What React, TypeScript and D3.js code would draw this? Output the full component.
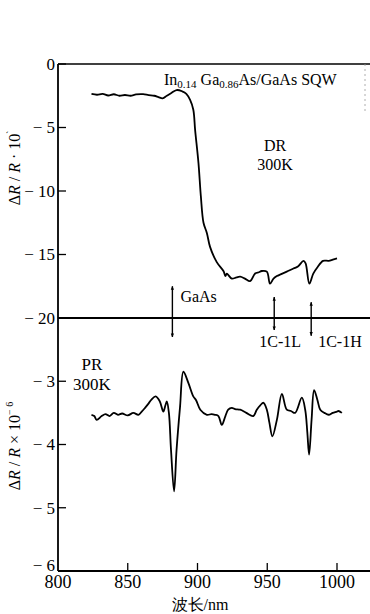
import React from "react";
import * as d3 from "d3";

// DR spectrum (ΔR/R · 10^-3)
const drWave = [824, 828, 832, 836, 840, 844, 848, 852, 856, 861, 865, 869, 872, 875, 878, 881, 885, 889, 892, 894.7, 897, 898.3, 900.7, 902.4, 904.3, 906.7, 909, 913.8, 918.6, 920, 921, 922, 924.6, 928, 930.6, 934, 937.7, 941.3, 944, 946, 949.7, 952, 954.5, 956.9, 960, 964, 968.8, 972, 976, 977.5, 980.2, 983, 986, 990, 994, 997, 1000];
const drValue = [-2.36, -2.42, -2.35, -2.48, -2.38, -2.5, -2.44, -2.5, -2.4, -2.38, -2.45, -2.5, -2.6, -2.7, -2.5, -2.3, -2.05, -2.15, -2.35, -2.83, -3.6, -5.2, -7.8, -10.4, -12.5, -13.3, -14.4, -15.6, -16.3, -16.7, -16.5, -16.6, -16.9, -16.8, -16.75, -16.9, -17.1, -16.5, -16.4, -16.3, -16.35, -17.3, -16.9, -16.7, -16.55, -16.35, -16.1, -15.95, -15.5, -15.7, -17.3, -16.5, -16.0, -15.5, -15.5, -15.4, -15.3];

// PR spectrum (ΔR/R × 10^-6)
const prWave = [824, 826, 827.7, 831.3, 834, 837, 840, 843, 846, 850, 854, 857.6, 860, 862.4, 865, 867, 870, 873, 875.5, 877, 878, 879.5, 881, 883.2, 885, 887.5, 889.9, 893.5, 897, 899, 902, 906.7, 910, 912.6, 915, 917.4, 920, 922, 924.6, 927, 930.6, 935, 940, 942.5, 945, 947.3, 949.7, 951.5, 953.7, 956.9, 960.5, 964, 967, 970, 974.8, 977.2, 978.7, 980, 981.8, 983.6, 986, 988, 991, 994, 997, 1000, 1001, 1003.5];
const prValue = [-3.53, -3.55, -3.61, -3.55, -3.52, -3.55, -3.5, -3.53, -3.51, -3.54, -3.5, -3.53, -3.48, -3.42, -3.35, -3.29, -3.24, -3.32, -3.48, -3.38, -3.32, -3.5, -4.08, -4.74, -4.08, -3.4, -2.85, -3.03, -3.24, -3.3, -3.45, -3.53, -3.52, -3.53, -3.55, -3.69, -3.55, -3.45, -3.42, -3.44, -3.45, -3.5, -3.55, -3.45, -3.38, -3.34, -3.45, -3.65, -3.87, -3.61, -3.2, -3.45, -3.47, -3.5, -3.26, -3.45, -3.8, -4.16, -3.6, -3.14, -3.3, -3.45, -3.5, -3.53, -3.5, -3.48, -3.47, -3.5];

const xTicks = [800, 850, 900, 950, 1000];
const drTicks = [0, -5, -10, -15, -20];
const prTicks = [-3, -4, -5, -6];

// transitions marked with double arrows: wavelength, top (DR units), bottom (PR units)
const markers = [
  { name: "GaAs", wave: 882, top: -17.5, bottom: -2.3 },
  { name: "1C-1L", wave: 955, top: -18.35, bottom: -2.19 },
  { name: "1C-1H", wave: 981.5, top: -18.75, bottom: -2.28 },
];

const W = 370;
const H = 614;
const FONT = "'Liberation Serif', 'Times New Roman', serif";

export default function App() {
  const left = 58;
  const x = d3.scaleLinear().domain([800, 1000]).range([left, 337]);
  const yDR = d3.scaleLinear().domain([0, -20]).range([64, 318]);
  const yPR = d3.scaleLinear().domain([-2, -6]).range([318, 571]);

  const drLine = d3
    .line<number>()
    .x((_, i) => x(drWave[i]))
    .y((d) => yDR(d))
    .curve(d3.curveCatmullRom.alpha(0.5));
  const prLine = d3
    .line<number>()
    .x((_, i) => x(prWave[i]))
    .y((d) => yPR(d))
    .curve(d3.curveCatmullRom.alpha(0.5));

  const minus = (v: number) => (v === 0 ? "0" : `\u2212 ${Math.abs(v)}`);

  return (
    <svg
      width={W}
      height={H}
      style={{ position: "absolute", left: 0, top: 0, background: "#fff" }}
      fontFamily={FONT}
    >
      <defs>
        <marker id="ah" viewBox="0 0 10 10" refX="9" refY="5" markerWidth="4" markerHeight="8" orient="auto-start-reverse" markerUnits="userSpaceOnUse">
          <path d="M0,1 L10,5 L0,9 Z" fill="#000" />
        </marker>
      </defs>

      {/* frame lines */}
      <line x1={left} x2={left} y1={yDR(0)} y2={yPR(-6)} stroke="#000" strokeWidth={1.8} />
      <line x1={left} x2={W} y1={yDR(0)} y2={yDR(0)} stroke="#000" strokeWidth={1.5} />
      <line x1={left} x2={W} y1={yDR(-20)} y2={yDR(-20)} stroke="#000" strokeWidth={1.8} />
      <line x1={left} x2={W} y1={yPR(-6)} y2={yPR(-6)} stroke="#000" strokeWidth={1.8} />
      <line x1={365} x2={365} y1={yDR(0)} y2={112} stroke="#999" strokeWidth={0.8} strokeDasharray="2 3" />

      {/* y ticks DR */}
      {drTicks.map((t) => (
        <g key={"dr" + t}>
          <line x1={left} x2={left + 8} y1={yDR(t)} y2={yDR(t)} stroke="#000" strokeWidth={1.3} />
          <text x={left - 3} y={yDR(t)} dy="0.35em" textAnchor="end" fontSize={17}>
            {minus(t)}
          </text>
        </g>
      ))}
      {/* y ticks PR */}
      {prTicks.map((t) => (
        <g key={"pr" + t}>
          <line x1={left} x2={left + 8} y1={yPR(t)} y2={yPR(t)} stroke="#000" strokeWidth={1.3} />
          <text x={left - 3} y={yPR(t) - (t === -6 ? 6 : 0)} dy="0.35em" textAnchor="end" fontSize={17}>
            {minus(t)}
          </text>
        </g>
      ))}
      {/* x ticks */}
      {xTicks.map((t) => (
        <g key={"x" + t}>
          {t !== 800 && <line x1={x(t)} x2={x(t)} y1={yPR(-6)} y2={yPR(-6) - 8} stroke="#000" strokeWidth={1.3} />}
          <text x={x(t)} y={588} textAnchor="middle" fontSize={18}>
            {t}
          </text>
        </g>
      ))}
      <text x={200} y={610} textAnchor="middle" fontSize={16}>
        波长/nm
      </text>

      {/* y axis titles */}
      <text transform="translate(20,168) rotate(-90)" textAnchor="middle" fontSize={16}>
        Δ<tspan fontStyle="italic">R</tspan> / <tspan fontStyle="italic">R</tspan> · 10
        <tspan dy={-7} fontSize={9}>ˋ</tspan>
      </text>
      <text transform="translate(20,446) rotate(-90)" textAnchor="middle" fontSize={16}>
        Δ<tspan fontStyle="italic">R</tspan> / <tspan fontStyle="italic">R</tspan> × 10
        <tspan dy={-7} fontSize={10}>− 6</tspan>
      </text>

      {/* curves */}
      <path d={drLine(drValue) || ""} fill="none" stroke="#000" strokeWidth={1.8} strokeLinejoin="round" />
      <path d={prLine(prValue) || ""} fill="none" stroke="#000" strokeWidth={1.8} strokeLinejoin="round" />

      {/* annotations */}
      <text x={164} y={85} fontSize={16}>
        In<tspan dy={3} fontSize={11}>0.14</tspan>
        <tspan dy={-3}> Ga</tspan>
        <tspan dy={3} fontSize={11}>0.86</tspan>
        <tspan dy={-3}>As/GaAs SQW</tspan>
      </text>
      <text x={275} y={151} textAnchor="middle" fontSize={16}>DR</text>
      <text x={275} y={170} textAnchor="middle" fontSize={16}>300K</text>
      <text x={92} y={370} textAnchor="middle" fontSize={17}>PR</text>
      <text x={92} y={390} textAnchor="middle" fontSize={17}>300K</text>

      {markers.map((m) => (
        <line
          key={m.name}
          x1={x(m.wave)}
          x2={x(m.wave)}
          y1={yPR(m.bottom)}
          y2={yDR(m.top)}
          stroke="#000"
          strokeWidth={1.4}
          markerStart="url(#ah)"
          markerEnd="url(#ah)"
        />
      ))}
      <text x={x(882) + 8} y={302} fontSize={16}>GaAs</text>
      <text x={x(955) + 6} y={347} textAnchor="middle" fontSize={16}>1C-1L</text>
      <text x={x(981.5) + 7} y={347} fontSize={16}>1C-1H</text>
    </svg>
  );
}
